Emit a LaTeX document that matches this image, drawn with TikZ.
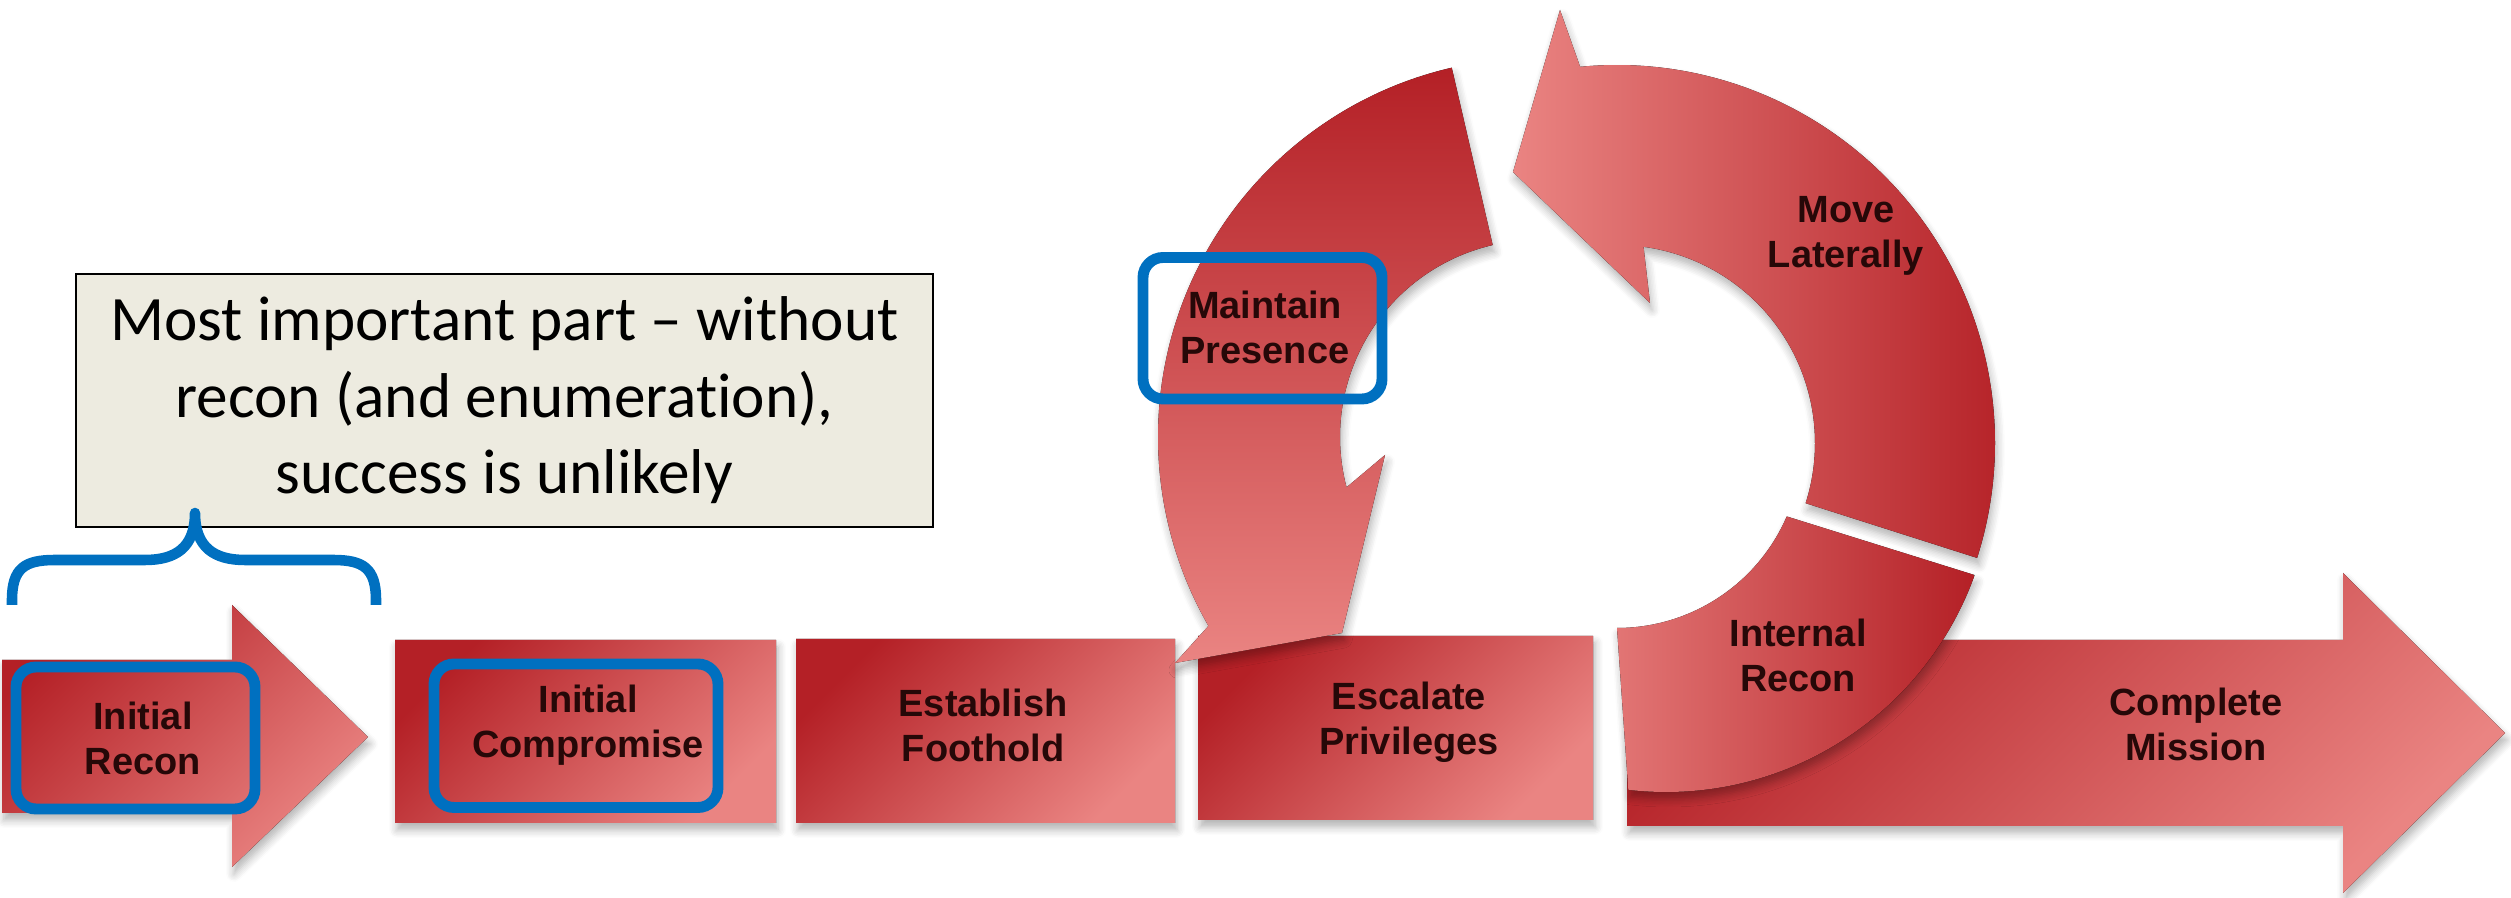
\documentclass[tikz,border=0pt]{standalone}
\usepackage{fontspec}
\usepackage{tikz}
\usepackage{tkz-euclide}
\usetikzlibrary{calc}
\usetikzlibrary{shadows.blur}
\newfontfamily\stagefont{Liberation Sans}
\newfontfamily\notefont{Carlito}[Ligatures=NoCommon]
\definecolor{redDark}{RGB}{180,32,38}
\definecolor{redLight}{RGB}{234,132,130}
\definecolor{hiBlue}{RGB}{0,112,192}
\definecolor{noteFill}{RGB}{237,235,224}
\definecolor{inkDark}{RGB}{38,8,8}

\begin{document}
\begin{tikzpicture}[
                    softshade/.style={blur shadow={shadow xshift=0.02cm, shadow yshift=-0.07cm, shadow blur radius=0.08cm, shadow blur steps=6, shadow opacity=30}},
                    stagebox/.style={softshade, top color=redDark, bottom color=redLight, shading angle=45},
                    ringdown/.style={softshade, top color=redDark, bottom color=redLight},
                    ringback/.style={softshade, left color=redLight, right color=redDark},
                    ringin/.style={softshade, left color=redLight!85!redDark, right color=redDark},
                    hilite/.style={draw=hiBlue, line width=3.1pt, rounded corners=0.2cm},
                    bracestroke/.style={draw=hiBlue, line width=3pt, line join=round},
                    stagelbl/.style={font=\stagefont\bfseries\fontsize{10.8}{12.8}\selectfont, text=inkDark, align=center},
                    notebox/.style={draw=black, line width=0.8pt, fill=noteFill, minimum width=8.57cm, minimum height=2.53cm, inner sep=0pt, align=center, font=\notefont\fontsize{18}{21.8}\selectfont}]
                    \useasboundingbox (0,0) rectangle (25.11,8.98);

                    \node[notebox] (N) at (5.045,4.975) {Most important part – without\\recon (and enumeration),\\success is unlikely};

                    \tkzDefPoint(0.12,2.93){K1}
                    \tkzDefPoint(1.95,3.85){K2}
                    \tkzDefPoint(3.76,2.93){K3}
                    \draw[bracestroke] (K1) -- ++(0,0.05) .. controls +(0,0.32) and +(-0.30,0) .. (0.55,3.38) -- (1.45,3.38)
                        .. controls +(0.30,0) and +(0,-0.35) .. (K2) .. controls +(0,-0.35) and +(-0.30,0) .. (2.45,3.38)
                        -- (3.33,3.38) .. controls +(0.30,0) and +(0,0.32) .. ($(K3)+(0,0.05)$) -- (K3);

                    \tkzDefPoint(0.02,2.38){A1}
                    \tkzDefPoint(2.32,2.38){A2}
                    \tkzDefPoint(2.32,2.93){A3}
                    \tkzDefPoint(3.68,1.61){A4}
                    \tkzDefPoint(2.32,0.31){A5}
                    \tkzDefPoint(2.32,0.85){A6}
                    \tkzDefPoint(0.02,0.85){A7}
                    \tkzFillPolygon[stagebox](A1,A2,A3,A4,A5,A6,A7)

                    \tkzDefPoint(3.95,2.58){B1}
                    \tkzDefPoint(7.76,2.58){B2}
                    \tkzDefPoint(7.76,0.75){B3}
                    \tkzDefPoint(3.95,0.75){B4}
                    \tkzFillPolygon[stagebox](B1,B2,B3,B4)

                    \tkzDefPoint(7.96,2.59){E1}
                    \tkzDefPoint(11.75,2.59){E2}
                    \tkzDefPoint(11.75,0.75){E3}
                    \tkzDefPoint(7.96,0.75){E4}
                    \tkzFillPolygon[stagebox](E1,E2,E3,E4)

                    \tkzDefPoint(11.98,2.62){P1}
                    \tkzDefPoint(15.93,2.62){P2}
                    \tkzDefPoint(15.93,0.78){P3}
                    \tkzDefPoint(11.98,0.78){P4}
                    \tkzFillPolygon[stagebox](P1,P2,P3,P4)

                    \tkzDefPoint(16.27,2.58){M1}
                    \tkzDefPoint(23.43,2.58){M2}
                    \tkzDefPoint(23.43,3.25){M3}
                    \tkzDefPoint(25.05,1.65){M4}
                    \tkzDefPoint(23.43,0.05){M5}
                    \tkzDefPoint(23.43,0.72){M6}
                    \tkzDefPoint(16.27,0.72){M7}
                    \tkzFillPolygon[stagebox](M1,M2,M3,M4,M5,M6,M7)

                    \tkzDefPoint(15.37,4.61){CL}
                    \tkzDefPoint(11.75,2.35){HL1}
                    \tkzDefPoint(13.42,2.65){HL2}
                    \tkzDefPoint(13.85,4.43){HL3}
                    \fill[ringdown] ($(CL)+(103:3.79)$) arc[start angle=103, end angle=209.9, radius=3.79]
                        -- (HL1) -- (HL2) -- (HL3) -- ($(CL)+(194.8:1.97)$) arc[start angle=194.8, end angle=103, radius=1.97] -- cycle;

                    \tkzDefPoint(16.17,4.55){CR}
                    \tkzDefPoint(15.60,8.88){HR1}
                    \tkzDefPoint(15.13,7.26){HR2}
                    \tkzDefPoint(16.50,5.95){HR3}
                    \fill[ringback] ($(CR)+(-17.7:3.78)$) arc[start angle=-17.7, end angle=95.6, radius=3.78]
                        -- (HR1) -- (HR2) -- (HR3) -- ($(CR)+(82.3:1.98)$) arc[start angle=82.3, end angle=-17.7, radius=1.98] -- cycle;

                    \tkzDefPoint(16.66,4.34){CI}
                    \fill[ringin] ($(CR)+(-23.4:1.85)$) -- ($(CI)+(-19.8:3.28)$) arc[start angle=-19.8, end angle=-96.6, radius=3.28]
                        -- ($(CR)+(-90:1.85)$) arc[start angle=-90, end angle=-23.4, radius=1.85] -- cycle;

                    \node[stagelbl] (LR) at (1.43,1.60) {Initial\\Recon};
                    \node[stagelbl] (LC) at (5.88,1.73) {Initial\\Compromise};
                    \node[stagelbl] (LF) at (9.83,1.725) {Establish\\Foothold};
                    \node[stagelbl] (LP) at (14.09,1.755) {Escalate\\Privileges};
                    \node[stagelbl] (LM) at (12.65,5.71) {Maintain\\Presence};
                    \node[stagelbl] (LL) at (18.46,6.625) {Move\\Laterally};
                    \node[stagelbl] (LI) at (17.98,2.43) {Internal\\Recon};
                    \node[stagelbl] (LX) at (21.96,1.735) {Complete\\Mission};

                    \tkzDefPoint(0.16,0.89){H1}
                    \tkzDefPoint(2.55,2.31){H2}
                    \tkzDefPoint(4.34,0.905){H3}
                    \tkzDefPoint(7.18,2.34){H4}
                    \tkzDefPoint(11.43,4.99){H5}
                    \tkzDefPoint(13.82,6.405){H6}
                    \draw[hilite] (H1) rectangle (H2);
                    \draw[hilite] (H3) rectangle (H4);
                    \draw[hilite] (H5) rectangle (H6);
                \end{tikzpicture}
\end{document}
